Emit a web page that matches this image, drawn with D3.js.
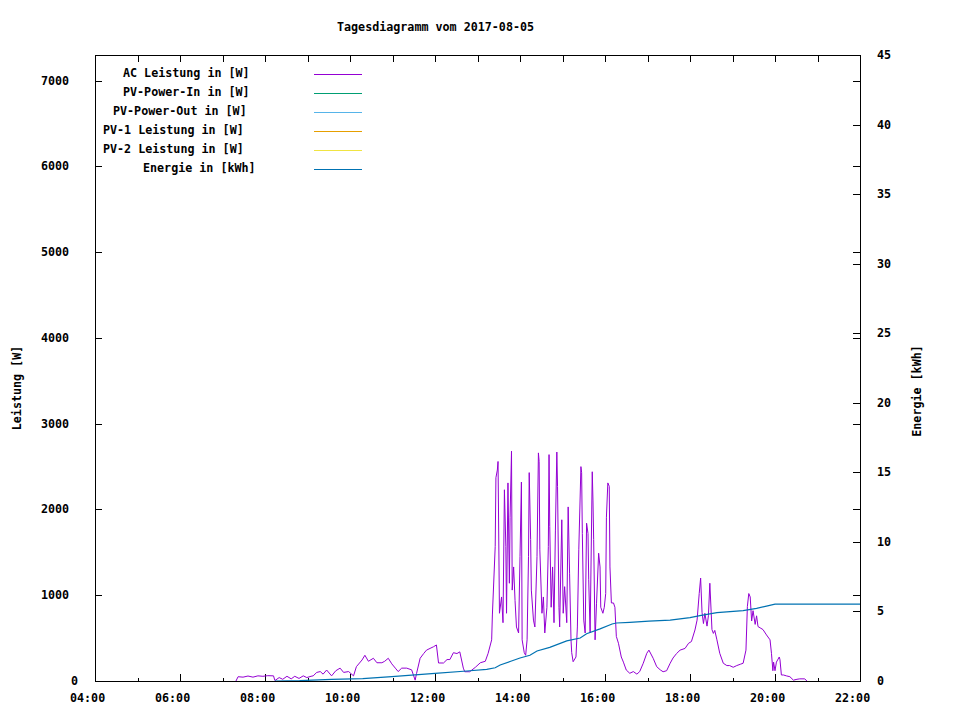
<!DOCTYPE html>
<html>
<head>
<meta charset="utf-8">
<script src="https://cdn.jsdelivr.net/npm/d3@7"></script>
<style>
  body { margin: 0; background: #fff; }
  text { font-family: "DejaVu Sans Mono", "Liberation Mono", monospace; font-weight: bold; font-size: 11.7px; fill: #000; }
</style>
</head>
<body>
<div id="svg-area"></div>
<script>
// day of the log
var day = "2017-08-05";

// legend entries (only AC and Energie carry data on this day)
var seriesNames = ["AC Leistung in [W]", "PV-Power-In in [W]", "PV-Power-Out in [W]",
                   "PV-1 Leistung in [W]", "PV-2 Leistung in [W]", "Energie in [kWh]"];
var seriesColors = ["#9400d3", "#009e73", "#56b4e9", "#e69f00", "#f0e442", "#0072b2"];

// AC Leistung in W
var acTimes = ["07:19","07:22","07:29","07:36","07:43","07:50","07:57","08:04","08:12","08:14",
  "08:20","08:25","08:31","08:37","08:42","08:48","08:54","08:59","09:05","09:08",
  "09:13","09:18","09:22","09:27","09:34","09:40","09:46","09:51","09:58","10:05",
  "10:09","10:17","10:21","10:26","10:33","10:38","10:45","10:49","10:54","10:59",
  "11:04","11:08","11:13","11:20","11:27","11:32","11:34","11:39","11:44","11:48",
  "11:53","11:58","12:02","12:05","12:12","12:17","12:21","12:26","12:31","12:35",
  "12:40","12:42","12:49","12:57","13:04","13:11","13:15","13:20","13:21","13:25",
  "13:26","13:28","13:29","13:31","13:34","13:36","13:38","13:40","13:41","13:43",
  "13:45","13:46","13:48","13:49","13:51","13:53","13:55","13:58","14:00","14:02",
  "14:03","14:06","14:08","14:10","14:12","14:13","14:15","14:16","14:19","14:21",
  "14:24","14:26","14:27","14:28","14:31","14:33","14:35","14:38","14:40","14:41",
  "14:42","14:44","14:46","14:48","14:50","14:52","14:53","14:55","14:56","14:59",
  "15:01","15:03","15:06","15:08","15:10","15:12","15:13","15:15","15:19","15:21",
  "15:23","15:26","15:27","15:28","15:30","15:32","15:34","15:36","15:37","15:39",
  "15:42","15:43","15:44","15:46","15:48","15:51","15:53","15:54","15:57","15:59",
  "16:01","16:02","16:04","16:06","16:07","16:09","16:12","16:14","16:16","16:19",
  "16:23","16:26","16:30","16:35","16:40","16:45","16:49","16:54","16:59","17:02",
  "17:08","17:13","17:18","17:22","17:27","17:32","17:36","17:41","17:46","17:53",
  "17:58","18:02","18:07","18:10","18:13","18:15","18:17","18:19","18:21","18:24",
  "18:26","18:28","18:31","18:33","18:35","18:38","18:42","18:47","18:52","18:56",
  "19:01","19:06","19:11","19:15","19:19","19:21","19:23","19:25","19:27","19:29",
  "19:32","19:34","19:36","19:39","19:43","19:48","19:53","19:55","19:57","19:58",
  "20:00","20:02","20:06","20:07","20:09","20:12","20:16","20:21","20:26","20:31",
  "20:35","20:42","20:45"];
var acWatts = [0,50,45,58,45,60,55,62,60,5,
  40,20,55,25,55,30,60,40,55,60,
  100,110,80,128,60,120,150,100,110,60,
  167,245,300,230,265,213,213,230,265,200,
  150,110,150,150,130,10,90,265,320,360,
  380,400,420,210,210,250,250,330,320,340,
  150,108,108,160,213,230,323,480,770,1570,
  2370,2460,2560,790,980,680,2230,1570,790,2310,
  1140,1910,2680,1060,1330,940,630,560,1450,2320,
  480,330,300,480,1450,2430,1650,1060,710,630,
  1450,2660,2560,1530,790,980,560,860,1570,2640,
  1800,860,1330,680,1760,2670,2270,860,630,1880,
  790,1100,680,2030,1250,480,330,225,280,630,
  1530,2500,2430,1720,710,560,1840,1720,1180,560,
  2440,2110,1650,480,900,1490,1330,860,790,860,
  1020,1910,2310,2270,1330,910,910,860,520,440,
  280,220,128,90,110,80,110,207,323,360,
  265,167,130,108,120,207,268,320,360,380,
  440,460,595,710,1020,1200,800,670,790,640,
  760,1140,600,555,590,480,323,207,180,180,
  160,180,195,207,360,870,1020,980,700,820,
  660,760,635,620,600,537,480,323,120,220,
  120,220,280,250,70,70,60,50,10,20,
  25,25,0];

// Energie in kWh (cumulative)
var energyTimes = ["08:14","08:49","09:34","10:18","10:59","12:00","12:45","13:13","13:25","13:32",
  "13:46","14:00","14:14","14:24","14:42","15:06","15:25","15:34","15:53","16:10",
  "16:16","16:35","17:02","17:32","18:00","18:14","18:38","19:15","19:34","19:48",
  "20:00","22:00"];
var energyKwh = [0,0.03,0.12,0.17,0.31,0.55,0.72,0.84,0.95,1.15,
  1.40,1.65,1.85,2.16,2.42,2.88,3.09,3.40,3.75,4.10,
  4.17,4.22,4.31,4.38,4.55,4.70,4.92,5.06,5.22,5.38,
  5.53,5.53];

var xTickLabels = ["04:00","06:00","08:00","10:00","12:00","14:00","16:00","18:00","20:00","22:00"];
var leftTicks = [0, 1000, 2000, 3000, 4000, 5000, 6000, 7000];
var rightTicks = [0, 5, 10, 15, 20, 25, 30, 35, 40, 45];

var svgWidth = 960
var svgHeight = 720
var plot = { left: 95, right: 860, top: 55, bottom: 681 }

var parse = d3.timeParse("%Y-%m-%d %H:%M");
var t = function(hm) { return parse(day + " " + hm); };

var acData = acTimes.map(function(d, i) { return { t: t(d), v: acWatts[i] }; });
var energyData = energyTimes.map(function(d, i) { return { t: t(d), v: energyKwh[i] }; });

var x = d3.scaleTime()
    .domain([t("04:00"), t("22:00")])
    .range([plot.left, plot.right]);
var y = d3.scaleLinear().domain([0, 7300]).range([plot.bottom, plot.top]);
var y2 = d3.scaleLinear().domain([0, 45]).range([plot.bottom, plot.top]);

var svg = d3.select('#svg-area')
    .append('svg')
    .attr('width', svgWidth)
    .attr('height', svgHeight)

// title
svg.append('text')
    .attr('x', 337)
    .attr('y', 31)
    .text("Tagesdiagramm vom " + day)

// hour ticks on top (all long) and bottom (long every 2 h)
var hours = d3.timeHour.range(t("04:00"), d3.timeMinute.offset(t("22:00"), 1));
var ticks = svg.append('g').attr('stroke', '#000').attr('shape-rendering', 'crispEdges');
ticks.selectAll('.tb')
    .data(hours)
    .enter()
    .append('line')
    .attr('x1', function(d) { return Math.round(x(d)) + 0.5; })
    .attr('x2', function(d) { return Math.round(x(d)) + 0.5; })
    .attr('y1', plot.bottom)
    .attr('y2', function(d) { return plot.bottom - (d.getHours() % 2 === 0 ? 7 : 3.5); })
ticks.selectAll('.tt')
    .data(hours)
    .enter()
    .append('line')
    .attr('x1', function(d) { return Math.round(x(d)) + 0.5; })
    .attr('x2', function(d) { return Math.round(x(d)) + 0.5; })
    .attr('y1', plot.top)
    .attr('y2', plot.top + 7)

// left ticks, mirrored on the right
leftTicks.forEach(function(v) {
    var yy = Math.round(y(v)) + 0.5;
    ticks.append('line').attr('x1', plot.left).attr('x2', plot.left + 7).attr('y1', yy).attr('y2', yy);
    ticks.append('line').attr('x1', plot.right).attr('x2', plot.right - 7).attr('y1', yy).attr('y2', yy);
});
rightTicks.forEach(function(v) {
    var yy = Math.round(y2(v)) + 0.5;
    ticks.append('line').attr('x1', plot.right).attr('x2', plot.right - 7).attr('y1', yy).attr('y2', yy);
});

// tick labels (gnuplot places them by a 10px char estimate)
svg.selectAll('.xl')
    .data(xTickLabels)
    .enter()
    .append('text')
    .attr('x', function(d) { return x(t(d)) - d.length * 5; })
    .attr('y', 702)
    .text(function(d) { return d; })
svg.selectAll('.yl')
    .data(leftTicks)
    .enter()
    .append('text')
    .attr('x', function(d) { return 81 - String(d).length * 10; })
    .attr('y', function(d) { return y(d) + 4; })
    .text(function(d) { return d; })
svg.selectAll('.y2l')
    .data(rightTicks)
    .enter()
    .append('text')
    .attr('x', 877)
    .attr('y', function(d) { return y2(d) + 4; })
    .text(function(d) { return d; })

// axis titles
svg.append('text')
    .attr('transform', 'translate(21,388) rotate(-90)')
    .attr('text-anchor', 'middle')
    .text("Leistung [W]")
svg.append('text')
    .attr('transform', 'translate(921,391) rotate(-90)')
    .attr('text-anchor', 'middle')
    .text("Energie [kWh]")

// data lines
var line = function(scale) {
    return d3.line().x(function(d) { return x(d.t); }).y(function(d) { return scale(d.v); });
};
svg.append('path')
    .datum(acData)
    .attr('d', line(y))
    .attr('fill', 'none')
    .attr('stroke', seriesColors[0])
    .attr('stroke-width', 1)
svg.append('path')
    .datum(energyData)
    .attr('d', line(y2))
    .attr('fill', 'none')
    .attr('stroke', seriesColors[5])
    .attr('stroke-width', 1.2)

// border
svg.append('rect')
    .attr('x', plot.left + 0.5)
    .attr('y', plot.top + 0.5)
    .attr('width', plot.right - plot.left)
    .attr('height', plot.bottom - plot.top)
    .attr('fill', 'none')
    .attr('stroke', '#000')
    .attr('shape-rendering', 'crispEdges')

// legend
var legend = svg.selectAll('.key')
    .data(seriesNames)
    .enter()
    .append('g')
    .attr('transform', function(d, i) { return 'translate(0,' + (74 + i * 19) + ')'; })
legend.append('text')
    .attr('x', function(d) { return 303 - d.length * 10; })
    .attr('y', 2.5)
    .text(function(d) { return d; })
legend.append('line')
    .attr('x1', 314)
    .attr('x2', 362)
    .attr('y1', 0.5)
    .attr('y2', 0.5)
    .attr('stroke', function(d, i) { return seriesColors[i]; })
    .attr('shape-rendering', 'crispEdges')
</script>
</body>
</html>
